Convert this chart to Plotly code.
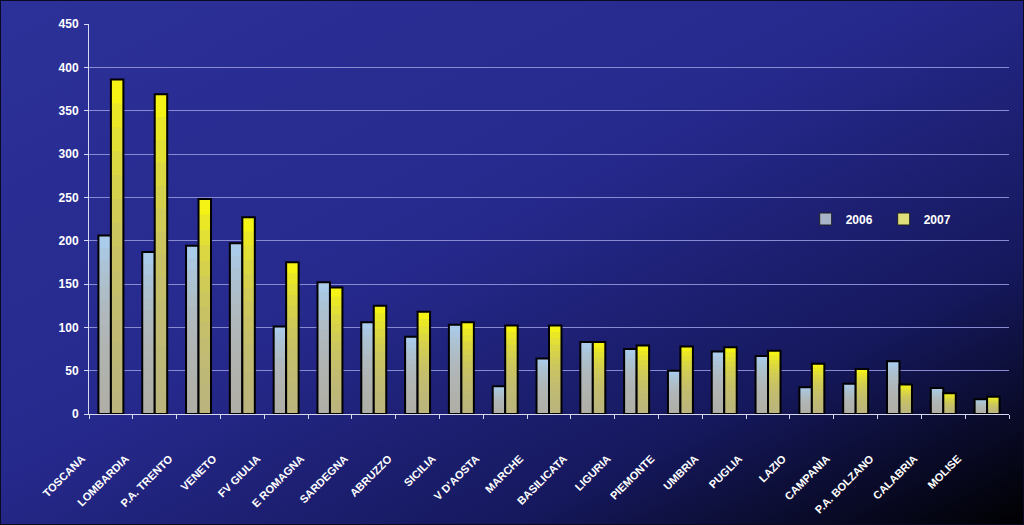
import base64
import plotly.graph_objects as go

categories = ["TOSCANA", "LOMBARDIA", "P.A. TRENTO", "VENETO", "FV GIULIA", "E ROMAGNA",
              "SARDEGNA", "ABRUZZO", "SICILIA", "V D'AOSTA", "MARCHE", "BASILICATA",
              "LIGURIA", "PIEMONTE", "UMBRIA", "PUGLIA", "LAZIO", "CAMPANIA",
              "P.A. BOLZANO", "CALABRIA", "MOLISE"]
v2006 = [206, 187, 194, 197, 101, 152, 106, 89, 103, 32, 64, 83, 75, 50, 72, 67, 31, 35, 61, 30, 17]
v2007 = [386, 369, 248, 227, 175, 146, 125, 118, 106, 102, 102, 83, 79, 78, 77, 73, 58, 52, 34, 24, 20]
series_names = ["2006", "2007"]

W, H = 1024, 525
ML, MR, MT, MB = 89, 15, 24, 111
PW, PH = W - ML - MR, H - MT - MB

# gradient page background as svg
svg = f'''<svg xmlns="http://www.w3.org/2000/svg" width="{W}" height="{H}" viewBox="0 0 {W} {H}" preserveAspectRatio="none">
<defs><linearGradient id="g" x1="0" y1="0" x2="1" y2="1">
<stop offset="0" stop-color="#2c3199"/>
<stop offset="0.45" stop-color="#26298c"/>
<stop offset="0.75" stop-color="#15185c"/>
<stop offset="1" stop-color="#000000"/>
</linearGradient></defs>
<rect width="{W}" height="{H}" fill="url(#g)"/>
<rect x="0.5" y="0.5" width="{W-1}" height="{H-1}" fill="none" stroke="#0a0a20" stroke-width="1"/>
</svg>'''
src = "data:image/svg+xml;base64," + base64.b64encode(svg.encode()).decode()

fig = go.Figure()

styles = {
    "2006": dict(top="#a9d2f7", bottom="rgba(178,172,158,{a})", group="a", legend="#a8b4c8"),
    "2007": dict(top="#ffff00", bottom="rgba(182,176,140,{a})", group="b", legend="#dede7a"),
}
NL = 14
alpha = 0.15
for name, vals in zip(series_names, [v2006, v2007]):
    st = styles[name]
    fig.add_trace(go.Bar(x=categories, y=vals, name=name, offsetgroup=st["group"],
                         marker=dict(color=st["top"], line=dict(width=0)),
                         showlegend=False, hoverinfo="skip"))
    for i in range(1, NL + 1):
        frac = i / NL
        fig.add_trace(go.Bar(x=categories, y=[v * frac for v in vals], offsetgroup=st["group"],
                             marker=dict(color=st["bottom"].format(a=alpha), line=dict(width=0)),
                             showlegend=False, hoverinfo="skip"))
    fig.add_trace(go.Bar(x=categories, y=vals, name=name, offsetgroup=st["group"],
                         marker=dict(color="rgba(0,0,0,0)", line=dict(width=2, color="#000000")),
                         showlegend=False))
    # legend proxy
    fig.add_trace(go.Bar(x=[None], y=[None], name=name,
                         marker=dict(color=st["legend"], line=dict(width=1, color="#222222")),
                         showlegend=True))

fig.update_layout(
    width=W, height=H,
    margin=dict(l=ML, r=MR, t=MT, b=MB, pad=0, autoexpand=False),
    paper_bgcolor="rgba(0,0,0,0)", plot_bgcolor="rgba(0,0,0,0)",
    barmode="group", bargap=0.43, bargroupgap=0,
    font=dict(family="Liberation Sans, Arial", color="white", size=12),
    images=[dict(source=src, xref="paper", yref="paper",
                 x=-ML / PW, y=1 + MT / PH, sizex=W / PW, sizey=H / PH,
                 sizing="stretch", layer="below", xanchor="left", yanchor="top")],
    legend=dict(orientation="h", x=0.779, y=0.5, xanchor="left", yanchor="middle",
                bgcolor="rgba(0,0,0,0)",
                font=dict(size=12, color="white", family="Liberation Sans, Arial", weight="bold"),
                itemwidth=30, entrywidth=33, entrywidthmode="pixels", traceorder="normal"),
    showlegend=True,
)
fig.update_yaxes(range=[0, 450], dtick=50, showgrid=True, gridcolor="#8a8ad2", gridwidth=1,
                 showline=True, linecolor="#d8d8f0", linewidth=1, ticks="outside", ticklen=4,
                 tickcolor="#d8d8f0", zeroline=False, ticklabelstandoff=3,
                 tickfont=dict(family="Liberation Sans, Arial", size=12, color="white", weight="bold"))
fig.update_xaxes(showline=True, linecolor="#d8d8f0", linewidth=1, ticks="outside", ticklen=4,
                 tickcolor="#d8d8f0", tickson="boundaries", tickangle=-45,
                 ticklabelstandoff=33, ticklabelshift=-29,
                 tickfont=dict(family="Liberation Sans, Arial", size=11, color="white", weight="bold"),
                 range=[-0.5, len(categories) - 0.5])

fig.write_html("out.html")
